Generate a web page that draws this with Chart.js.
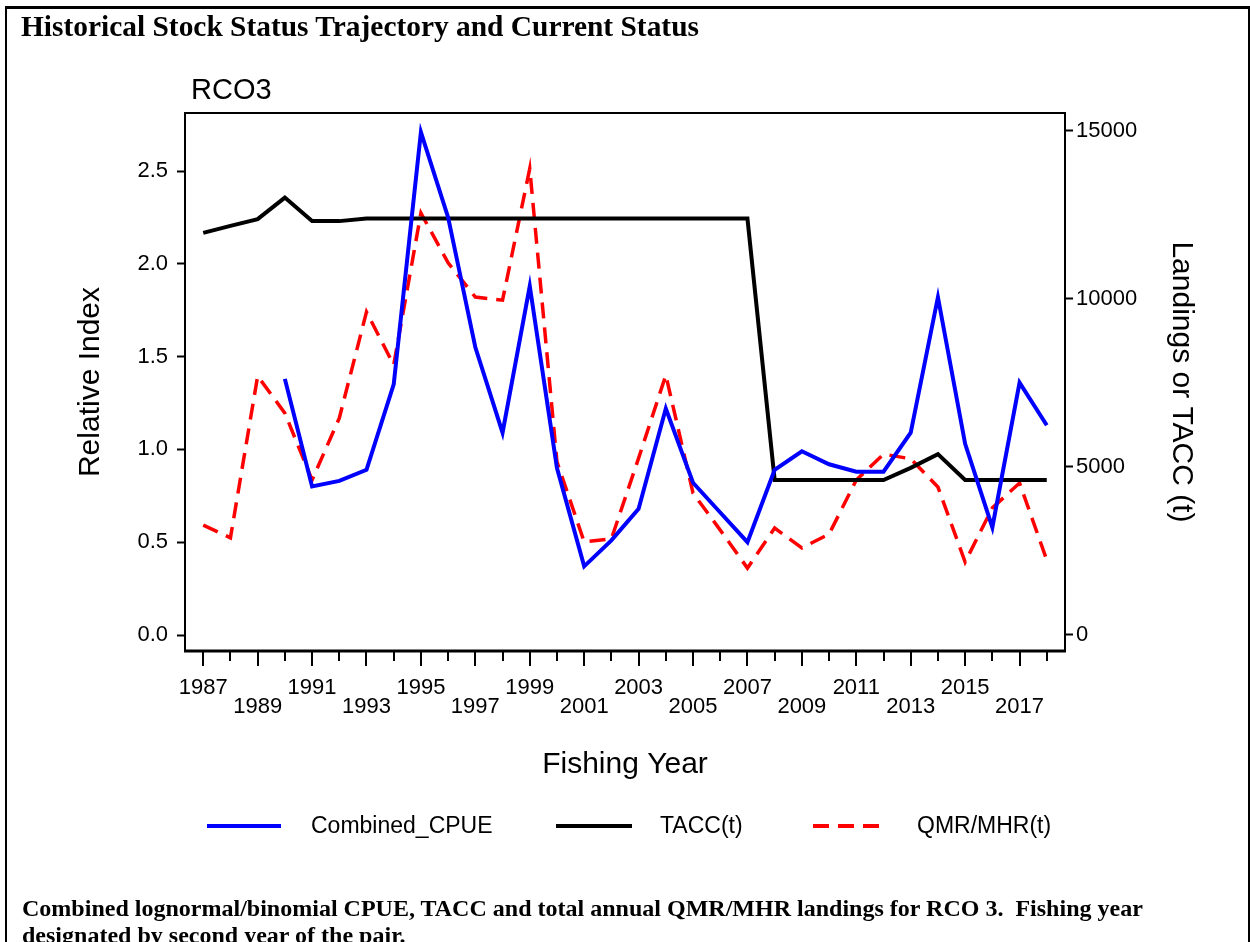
<!DOCTYPE html>
<html><head><meta charset="utf-8">
<script src="https://cdn.jsdelivr.net/npm/chart.js@4.4.0/dist/chart.umd.min.js"></script>
<style>
html,body{margin:0;padding:0;background:#fff;width:1250px;height:942px;overflow:hidden;}
#wrap{position:absolute;left:0;top:0;width:1250px;height:942px;}
#frame{position:absolute;left:5px;top:6px;width:1245px;height:1000px;border-top:3px solid #000;border-left:2px solid #000;border-right:2px solid #000;box-sizing:border-box;}
.serif{position:absolute;font-family:"Liberation Serif","Times New Roman",serif;font-weight:bold;line-height:1em;white-space:pre;color:#000;}
#sub{position:absolute;left:191px;font-family:"Liberation Sans",Arial,sans-serif;font-size:29px;line-height:1em;color:#000;white-space:pre;}
</style></head><body>
<div id="wrap"><canvas id="c" width="1250" height="942"></canvas></div>
<div id="frame"></div>
<div id="title" class="serif" style="left:21px;">Historical Stock Status Trajectory and Current Status</div>
<div id="sub">RCO3</div>
<div id="cap1" class="serif" style="left:22px;">Combined lognormal/binomial CPUE, TACC and total annual QMR/MHR landings for RCO 3.  Fishing year</div>
<div id="cap2" class="serif" style="left:22px;">designated by second year of the pair.</div>
<script>
// ---- data ----
const years = [1987,1988,1989,1990,1991,1992,1993,1994,1995,1996,1997,1998,1999,2000,2001,2002,
               2003,2004,2005,2006,2007,2008,2009,2010,2011,2012,2013,2014,2015,2016,2017,2018];
const cpue  = [null,null,null,1.38,0.80,0.83,0.89,1.35,2.71,2.25,1.55,1.09,1.88,0.90,0.37,0.51,
               0.68,1.22,0.82,0.66,0.50,0.89,0.99,0.92,0.88,0.88,1.09,1.82,1.03,0.58,1.36,1.13];
const tacc  = [11960,12170,12370,13010,12310,12310,12390,12390,12390,12390,12390,12390,12390,12390,12390,12390,
               12390,12390,12390,12390,12390,4610,4610,4610,4610,4610,4970,5380,4610,4610,4610,4610];
const qmr   = [3270,2890,7700,6600,4610,6450,9610,8030,12550,11070,10050,9960,13870,5150,2770,2860,
               5260,7730,4220,3120,1990,3180,2590,3000,4610,5380,5240,4400,2170,3780,4520,2230];
const xLabelsTop    = [1987,1991,1995,1999,2003,2007,2011,2015];
const xLabelsBottom = [1989,1993,1997,2001,2005,2009,2013,2017];
const leftTicks  = [0,0.5,1.0,1.5,2.0,2.5];
const rightTicks = [0,5000,10000,15000];
const seriesNames = ['Combined_CPUE','TACC(t)','QMR/MHR(t)'];

// ---- text fitting for the serif header/caption ----
function fitFont(el, target, baseline){
  const ctx = document.createElement('canvas').getContext('2d');
  ctx.font = 'bold 100px "Liberation Serif"';
  const fs = 100*target/ctx.measureText(el.textContent).width;
  el.style.fontSize = fs+'px';
  el.style.top = (baseline - 0.8375*fs)+'px';
  return fs;
}
const tfs = fitFont(document.getElementById('title'), 679, 37);
const cfs = fitFont(document.getElementById('cap1'), 1122, 916);
const c2 = document.getElementById('cap2');
c2.style.fontSize = cfs+'px'; c2.style.top = (943 - 0.8375*cfs)+'px';
document.getElementById('sub').style.top = (100 - 0.8465*29)+'px';

Chart.defaults.font.family = "'Liberation Sans', Arial, sans-serif";
Chart.defaults.color = '#000';

const pts = arr => years.map((yr,i)=>({x:yr, y:arr[i]}));

const legendPos = [
  {x1:207,x2:281,tx:311},
  {x1:556,x2:632,tx:660},
  {x1:813,x2:882,tx:917}
];
const legendY = 827;

const framePlugin = {
  id:'framePlugin',
  afterDraw(chart){
    const {ctx, chartArea:a, scales} = chart;
    ctx.save();
    ctx.strokeStyle = '#000';
    ctx.lineWidth = 2;
    ctx.beginPath();
    ctx.moveTo(a.left, a.bottom); ctx.lineTo(a.left, a.top); ctx.lineTo(a.right, a.top); ctx.lineTo(a.right, a.bottom);
    ctx.stroke();
    ctx.lineWidth = 3;
    ctx.beginPath(); ctx.moveTo(a.left-1, a.bottom); ctx.lineTo(a.right+1, a.bottom); ctx.stroke();
    // year ticks: long for labelled years, short otherwise
    ctx.lineWidth = 2;
    const xs = scales.x;
    years.forEach(yr=>{
      const px = Math.round(xs.getPixelForValue(yr));
      const len = (xLabelsTop.includes(yr)||xLabelsBottom.includes(yr)) ? 14 : 9;
      ctx.beginPath(); ctx.moveTo(px, a.bottom+1); ctx.lineTo(px, a.bottom+1+len); ctx.stroke();
    });
    // legend
    ctx.font = "23px 'Liberation Sans', Arial, sans-serif";
    ctx.textBaseline = 'middle';
    ctx.textAlign = 'left';
    chart.data.datasets.forEach((ds,i)=>{
      const p = legendPos[i];
      ctx.strokeStyle = ds.borderColor;
      ctx.lineWidth = 4;
      ctx.setLineDash(ds.borderDash || []);
      ctx.beginPath(); ctx.moveTo(p.x1, legendY-1); ctx.lineTo(p.x2, legendY-1); ctx.stroke();
      ctx.setLineDash([]);
      ctx.fillStyle = '#000';
      ctx.fillText(ds.label, p.tx, legendY);
    });
    ctx.restore();
  }
};

new Chart(document.getElementById('c'), {
  type:'line',
  data:{
    datasets:[
      {label:seriesNames[0], data:pts(cpue), yAxisID:'y', borderColor:'#0000FF', borderWidth:4, pointRadius:0, tension:0, spanGaps:false},
      {label:seriesNames[1], data:pts(tacc), yAxisID:'y1', borderColor:'#000000', borderWidth:4, pointRadius:0, tension:0},
      {label:seriesNames[2], data:pts(qmr), yAxisID:'y1', borderColor:'#FF0000', borderWidth:3.5, borderDash:[16,9], pointRadius:0, tension:0}
    ]
  },
  options:{
    responsive:false,
    animation:false,
    devicePixelRatio:1,
    layout:{padding:{top:113,left:0,right:0,bottom:0}},
    plugins:{legend:{display:false}, tooltip:{enabled:false}, title:{display:false}},
    scales:{
      x:{
        type:'linear', position:'bottom', min:1986.33, max:2018.67,
        afterBuildTicks:s=>{ s.ticks = years.map(v=>({value:v})); },
        afterFit:s=>{ s.height = 291; },
        ticks:{autoSkip:false, maxRotation:0, minRotation:0, padding:13, color:'#000',
          font:{size:22, lineHeight:0.89},
          callback:v=> xLabelsTop.includes(v) ? String(v) : (xLabelsBottom.includes(v) ? ['', String(v)] : '')},
        grid:{drawOnChartArea:false, drawTicks:true, tickLength:14, tickColor:'rgba(0,0,0,0)'},
        border:{display:false},
        title:{display:true, text:'Fishing Year', color:'#000', font:{size:30}, padding:{top:0,bottom:159}}
      },
      y:{
        type:'linear', position:'left', min:-0.0862, max:2.8125,
        afterBuildTicks:s=>{ s.ticks = leftTicks.map(v=>({value:v})); },
        afterFit:s=>{ s.width = 185; },
        ticks:{color:'#000', font:{size:22}, padding:9, callback:v=>Number(v).toFixed(1)},
        grid:{drawOnChartArea:false, drawTicks:true, tickLength:8, tickWidth:2, tickColor:'#000'},
        border:{display:false},
        title:{display:true, text:'Relative Index', color:'#000', font:{size:30}, padding:{top:73,bottom:0}}
      },
      y1:{
        type:'linear', position:'right', min:-476, max:15526,
        afterBuildTicks:s=>{ s.ticks = rightTicks.map(v=>({value:v})); },
        afterFit:s=>{ s.width = 185; },
        ticks:{color:'#000', font:{size:22}, padding:3, callback:v=>String(v)},
        grid:{drawOnChartArea:false, drawTicks:true, tickLength:8, tickWidth:2, tickColor:'#000'},
        border:{display:false},
        title:{display:true, text:'Landings or TACC (t)', color:'#000', font:{size:30}, padding:{top:51,bottom:0}}
      }
    }
  },
  plugins:[framePlugin]
});
</script>
</body></html>
